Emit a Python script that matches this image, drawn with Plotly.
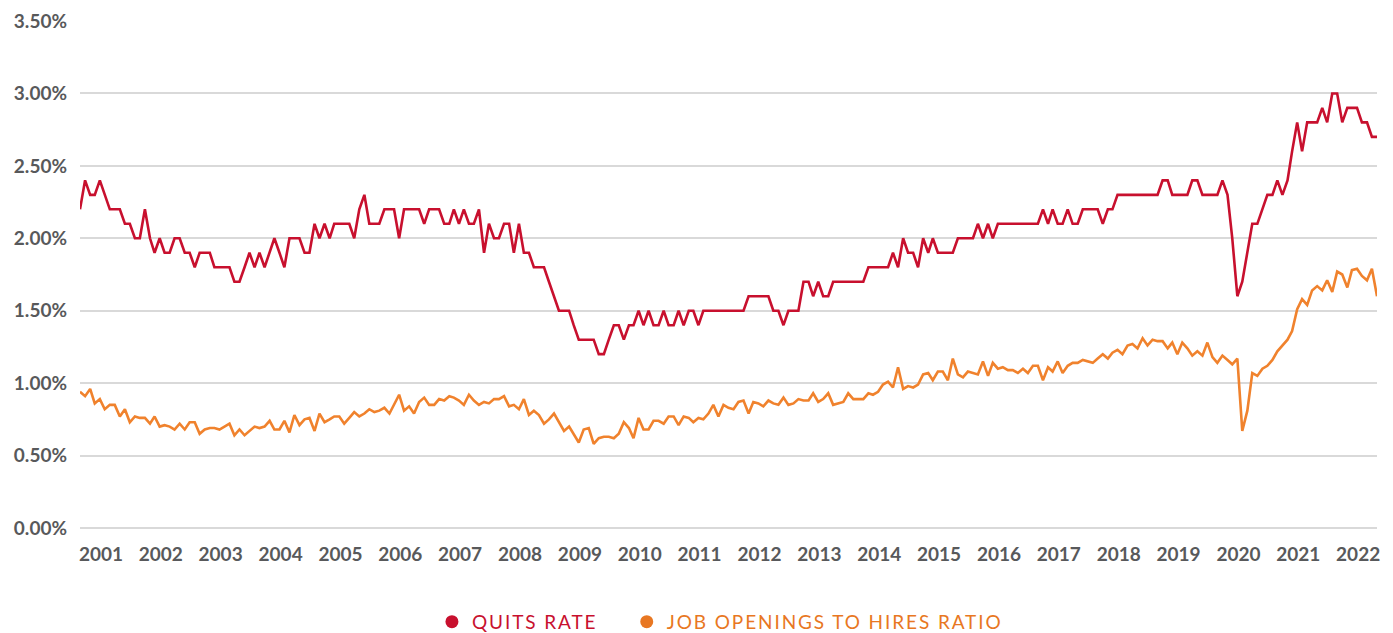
import pandas as pd
import plotly.graph_objects as go

# ---------------- data ----------------
months = pd.date_range("2000-12-01", "2022-08-01", freq="MS")

quits_rate = [
    2.2, 2.4, 2.3, 2.3, 2.4, 2.3, 2.2, 2.2, 2.2, 2.1, 2.1, 2.0, 2.0,
    2.2, 2.0, 1.9, 2.0, 1.9, 1.9, 2.0, 2.0, 1.9, 1.9, 1.8, 1.9,
    1.9, 1.9, 1.8, 1.8, 1.8, 1.8, 1.7, 1.7, 1.8, 1.9, 1.8, 1.9,
    1.8, 1.9, 2.0, 1.9, 1.8, 2.0, 2.0, 2.0, 1.9, 1.9, 2.1, 2.0,
    2.1, 2.0, 2.1, 2.1, 2.1, 2.1, 2.0, 2.2, 2.3, 2.1, 2.1, 2.1,
    2.2, 2.2, 2.2, 2.0, 2.2, 2.2, 2.2, 2.2, 2.1, 2.2, 2.2, 2.2,
    2.1, 2.1, 2.2, 2.1, 2.2, 2.1, 2.1, 2.2, 1.9, 2.1, 2.0, 2.0,
    2.1, 2.1, 1.9, 2.1, 1.9, 1.9, 1.8, 1.8, 1.8, 1.7, 1.6, 1.5,
    1.5, 1.5, 1.4, 1.3, 1.3, 1.3, 1.3, 1.2, 1.2, 1.3, 1.4, 1.4,
    1.3, 1.4, 1.4, 1.5, 1.4, 1.5, 1.4, 1.4, 1.5, 1.4, 1.4, 1.5,
    1.4, 1.5, 1.5, 1.4, 1.5, 1.5, 1.5, 1.5, 1.5, 1.5, 1.5, 1.5,
    1.5, 1.6, 1.6, 1.6, 1.6, 1.6, 1.5, 1.5, 1.4, 1.5, 1.5, 1.5,
    1.7, 1.7, 1.6, 1.7, 1.6, 1.6, 1.7, 1.7, 1.7, 1.7, 1.7, 1.7,
    1.7, 1.8, 1.8, 1.8, 1.8, 1.8, 1.9, 1.8, 2.0, 1.9, 1.9, 1.8,
    2.0, 1.9, 2.0, 1.9, 1.9, 1.9, 1.9, 2.0, 2.0, 2.0, 2.0, 2.1,
    2.0, 2.1, 2.0, 2.1, 2.1, 2.1, 2.1, 2.1, 2.1, 2.1, 2.1, 2.1,
    2.2, 2.1, 2.2, 2.1, 2.1, 2.2, 2.1, 2.1, 2.2, 2.2, 2.2, 2.2,
    2.1, 2.2, 2.2, 2.3, 2.3, 2.3, 2.3, 2.3, 2.3, 2.3, 2.3, 2.3,
    2.4, 2.4, 2.3, 2.3, 2.3, 2.3, 2.4, 2.4, 2.3, 2.3, 2.3, 2.3,
    2.4, 2.3, 2.0, 1.6, 1.7, 1.9, 2.1, 2.1, 2.2, 2.3, 2.3, 2.4,
    2.3, 2.4, 2.6, 2.8, 2.6, 2.8, 2.8, 2.8, 2.9, 2.8, 3.0, 3.0,
    2.8, 2.9, 2.9, 2.9, 2.8, 2.8, 2.7, 2.7,
]

openings_to_hires = [
    0.94, 0.91, 0.96, 0.86, 0.89, 0.82, 0.85, 0.85, 0.77, 0.82, 0.73, 0.77, 0.76,
    0.76, 0.72, 0.77, 0.70, 0.71, 0.70, 0.68, 0.72, 0.68, 0.73, 0.73, 0.65,
    0.68, 0.69, 0.69, 0.68, 0.70, 0.72, 0.64, 0.68, 0.64, 0.67, 0.70, 0.69,
    0.70, 0.74, 0.68, 0.68, 0.74, 0.66, 0.78, 0.71, 0.75, 0.76, 0.67, 0.79,
    0.73, 0.75, 0.77, 0.77, 0.72, 0.76, 0.80, 0.77, 0.79, 0.82, 0.80, 0.81,
    0.83, 0.79, 0.85, 0.92, 0.81, 0.84, 0.79, 0.87, 0.90, 0.85, 0.85, 0.89,
    0.88, 0.91, 0.90, 0.88, 0.85, 0.92, 0.88, 0.85, 0.87, 0.86, 0.89, 0.89,
    0.91, 0.84, 0.85, 0.82, 0.89, 0.78, 0.81, 0.78, 0.72, 0.75, 0.79, 0.73,
    0.67, 0.70, 0.65, 0.59, 0.68, 0.69, 0.58, 0.62, 0.63, 0.63, 0.62, 0.65,
    0.73, 0.69, 0.62, 0.76, 0.68, 0.68, 0.74, 0.74, 0.72, 0.77, 0.77, 0.71,
    0.77, 0.76, 0.73, 0.76, 0.75, 0.79, 0.85, 0.77, 0.85, 0.83, 0.82, 0.87,
    0.88, 0.79, 0.87, 0.86, 0.84, 0.88, 0.86, 0.85, 0.90, 0.85, 0.86, 0.89,
    0.88, 0.88, 0.93, 0.87, 0.89, 0.93, 0.85, 0.86, 0.87, 0.93, 0.89, 0.89,
    0.89, 0.93, 0.92, 0.94, 0.99, 1.01, 0.97, 1.11, 0.96, 0.98, 0.97, 0.99,
    1.06, 1.07, 1.02, 1.08, 1.08, 1.02, 1.17, 1.06, 1.04, 1.08, 1.07, 1.06,
    1.15, 1.05, 1.14, 1.10, 1.11, 1.09, 1.09, 1.07, 1.10, 1.07, 1.12, 1.12,
    1.02, 1.11, 1.08, 1.15, 1.07, 1.12, 1.14, 1.14, 1.16, 1.15, 1.14, 1.17,
    1.20, 1.17, 1.21, 1.23, 1.20, 1.26, 1.27, 1.24, 1.31, 1.26, 1.30, 1.29,
    1.29, 1.24, 1.28, 1.20, 1.28, 1.24, 1.19, 1.22, 1.19, 1.28, 1.18, 1.14,
    1.19, 1.16, 1.13, 1.17, 0.67, 0.81, 1.07, 1.05, 1.10, 1.12, 1.16, 1.22,
    1.26, 1.30, 1.36, 1.51, 1.58, 1.54, 1.64, 1.67, 1.64, 1.71, 1.63, 1.77,
    1.75, 1.66, 1.78, 1.79, 1.74, 1.71, 1.79, 1.60,
]

year_labels = [str(y) for y in range(2001, 2023)]
year_tick_dates = [f"{y}-04-08" for y in range(2001, 2023)]
y_ticks = [0, 0.5, 1.0, 1.5, 2.0, 2.5, 3.0, 3.5]
y_tick_labels = [f"{v:.2f}%" for v in y_ticks]

series_names = ["QUITS RATE", "JOB OPENINGS TO HIRES RATIO"]
line_colors = ["#c8102e", "#f0822d"]
legend_colors = ["#c8102e", "#e87722"]

# ---------------- figure ----------------
fig = go.Figure()

for vals, color in zip([quits_rate, openings_to_hires], line_colors):
    fig.add_trace(go.Scatter(
        x=months, y=vals, mode="lines",
        line=dict(color=color, width=2.6),
        showlegend=False, hoverinfo="x+y",
    ))

pads = ["\u00a0" * 5, ""]
for name, lcol, pad in zip(series_names, legend_colors, pads):
    fig.add_trace(go.Scatter(
        x=[None], y=[None], mode="markers",
        marker=dict(color=lcol, size=13, symbol="circle"),
        name=f"<span style='color:{lcol};letter-spacing:1.9px'>{name}</span>{pad}",
        showlegend=True,
    ))

tick_font = dict(family="Lato, sans-serif", size=19, color="#58595b", weight="bold")

# page body adds an 8 px offset, so the figure is sized to fit the window
fig.update_layout(
    width=1385, height=625,
    margin=dict(l=72, r=16, t=13, b=105, autoexpand=False),
    paper_bgcolor="white", plot_bgcolor="white",
    font=dict(family="Lato, sans-serif", color="#58595b"),
    legend=dict(
        orientation="h", x=0.4934, xanchor="center", y=-0.185, yanchor="middle",
        font=dict(family="Lato, sans-serif", size=19),
        itemwidth=30, bgcolor="rgba(0,0,0,0)",
    ),
    xaxis=dict(
        range=[months[0], months[-1]], automargin=False,
        tickmode="array", tickvals=year_tick_dates, ticktext=year_labels,
        showgrid=False, zeroline=False, showline=False, ticks="",
        tickfont=tick_font, ticklabelstandoff=13,
    ),
    yaxis=dict(
        range=[0, 3.5], automargin=False,
        tickmode="array", tickvals=y_ticks, ticktext=y_tick_labels,
        showgrid=True, gridcolor="#d9d9d9", gridwidth=1.6,
        zeroline=True, zerolinecolor="#d9d9d9", zerolinewidth=1.6,
        showline=False, ticks="",
        tickfont=tick_font, ticklabelstandoff=12,
    ),
)

fig.write_html("out.html")
